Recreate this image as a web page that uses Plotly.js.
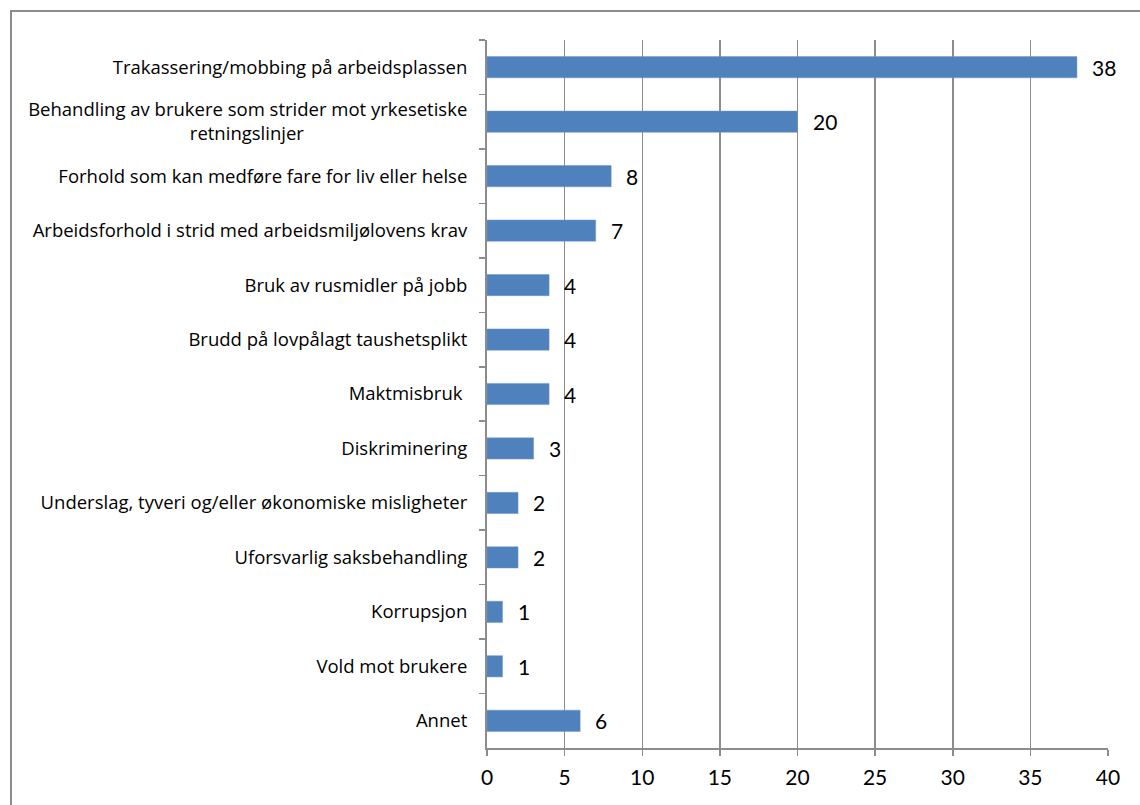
<!DOCTYPE html>
<html>
<head>
<meta charset="utf-8">
<script src="https://cdn.plot.ly/plotly-3.0.1.min.js"></script>
<style>
html, body { margin: 0; padding: 0; background: #fff; overflow: hidden; }
#chart { width: 1140px; height: 805px; }
#frame { position: absolute; left: 10px; top: 10px; width: 1300px; height: 1000px; border: 2px solid #8c8c8c; pointer-events: none; }
</style>
</head>
<body>
<div id="chart"></div>
<div id="frame"></div>
<script>
const categories = [
  "Trakassering/mobbing på arbeidsplassen",
  "Behandling av brukere som strider mot yrkesetiske<br>retningslinjer" + "\u00a0".repeat(34),
  "Forhold som kan medføre fare for liv eller helse",
  "Arbeidsforhold i strid med arbeidsmiljølovens krav",
  "Bruk av rusmidler på jobb",
  "Brudd på lovpålagt taushetsplikt",
  "Maktmisbruk\u00a0",
  "Diskriminering",
  "Underslag, tyveri og/eller økonomiske misligheter",
  "Uforsvarlig saksbehandling",
  "Korrupsjon",
  "Vold mot brukere",
  "Annet"
];
const values = [38, 20, 8, 7, 4, 4, 4, 3, 2, 2, 1, 1, 6];
const xTicks = [0, 5, 10, 15, 20, 25, 30, 35, 40];

const gray = "#8c8c8c";
const font = "Lato, Carlito, Calibri, 'Open Sans', sans-serif";
const labelFont = "'Open Sans', 'Noto Sans', sans-serif";

const trace = {
  type: "bar",
  orientation: "h",
  x: values,
  y: categories,
  marker: { color: "#4f81bd", line: { color: "#6f97c9", width: 0.5 } },
  hoverinfo: "x+y"
};

const annotations = values.map((v, i) => ({
  x: v, y: categories[i], xref: "x", yref: "y",
  text: String(v), showarrow: false, xanchor: "left", yanchor: "middle",
  xshift: 13, font: { family: font, size: 21, color: "#000" }
}));

const layout = {
  width: 1140, height: 805,
  margin: { l: 487, r: 32, t: 40, b: 57, pad: 0 },
  paper_bgcolor: "#fff", plot_bgcolor: "#fff",
  showlegend: false,
  bargap: 0.61,
  font: { family: font, color: "#000" },
  xaxis: {
    range: [0, 40], tickvals: xTicks, ticktext: xTicks.map(String),
    showgrid: true, gridcolor: gray, gridwidth: 1.5,
    zeroline: false,
    showline: true, linecolor: gray, linewidth: 2,
    ticks: "outside", ticklen: 6, tickcolor: gray, tickwidth: 1.5,
    ticklabelstandoff: 4,
    tickfont: { family: font, size: 21, color: "#000" },
    fixedrange: true
  },
  yaxis: {
    type: "category", autorange: "reversed",
    tickson: "boundaries",
    showgrid: false, zeroline: false,
    showline: true, linecolor: gray, linewidth: 2,
    ticks: "outside", ticklen: 6, tickcolor: gray, tickwidth: 1.5,
    ticklabelstandoff: 14,
    tickfont: { family: labelFont, size: 18.5, color: "#000" },
    fixedrange: true
  },
  annotations: annotations
};

Plotly.newPlot("chart", [trace], layout, { displayModeBar: false, staticPlot: true });
</script>
</body>
</html>
